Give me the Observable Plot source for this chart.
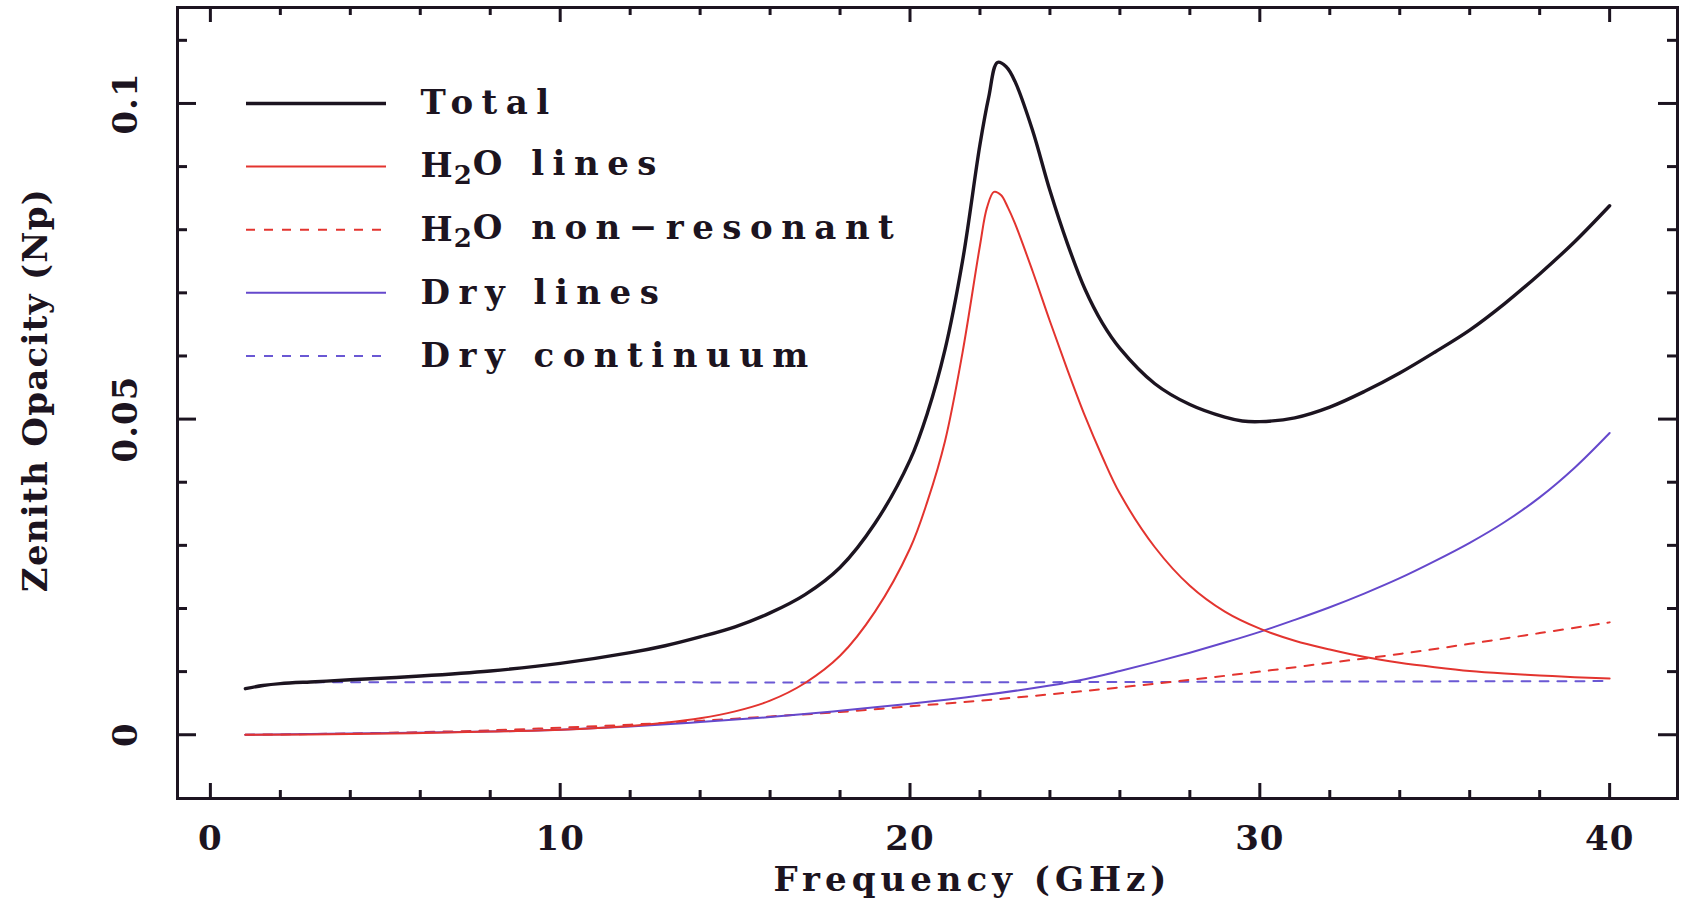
<!DOCTYPE html>
<html><head><meta charset="utf-8">
<script src="https://cdn.jsdelivr.net/npm/d3@7"></script>
<script src="https://cdn.jsdelivr.net/npm/@observablehq/plot@0.6"></script>
<style>
html,body{margin:0;padding:0;background:#fff;}
</style></head>
<body><div id="chart"></div>
<script>
// ---- data ----
const totalF = [1,1.5,2,3,4,6,8,10,12,13,14,15,16,17,18,19,20,20.5,21,21.5,22,22.25,22.5,22.75,23,23.5,24,24.5,25,25.5,26,27,28,29,29.5,30,31,32,33,34,35,36,37,38,39,40];
const totalV = [0.0073,0.0078,0.0081,0.0084,0.0087,0.0093,0.0101,0.0113,0.0130,0.0141,0.0155,0.0171,0.0193,0.0222,0.0265,0.0335,0.0435,0.0510,0.0610,0.0750,0.0935,0.1010,0.1065,0.1058,0.1035,0.0958,0.0862,0.0778,0.0706,0.0652,0.0612,0.0556,0.0523,0.0503,0.0497,0.0496,0.0502,0.0519,0.0544,0.0573,0.0606,0.0641,0.0683,0.0730,0.0781,0.0838];

const h2oF = [1,4,8,10,12,13,14,15,16,17,18,19,20,20.5,21,21.5,22,22.2,22.4,22.6,22.8,23,23.5,24,24.5,25,25.5,26,27,28,29,30,31,32,33,34,35,36,37,38,39,40];
const h2oV = [0,0.0001,0.0005,0.0008,0.0014,0.0019,0.0026,0.0037,0.0054,0.0082,0.0125,0.0195,0.0295,0.0370,0.0465,0.0605,0.0775,0.0835,0.0860,0.0855,0.0835,0.0810,0.0735,0.0655,0.0578,0.0505,0.0440,0.0382,0.0297,0.0236,0.0195,0.0168,0.0149,0.0135,0.0123,0.0114,0.0107,0.0101,0.0097,0.0094,0.0091,0.0089];

const nonresF = [1,4,8,12,14,16,18,20,22,24,26,28,30,32,34,36,38,40];
const nonresV = [0,0.0002,0.0007,0.0016,0.0022,0.0029,0.0036,0.0045,0.0054,0.0064,0.0075,0.0087,0.0100,0.0114,0.0128,0.0144,0.0161,0.0178];

const dryF = [1,4,8,10,12,14,16,18,20,22,24,25,26,27,28,29,30,31,32,33,34,35,36,37,38,39,40];
const dryV = [0,0.0002,0.0005,0.0008,0.0013,0.0020,0.0028,0.0038,0.0049,0.0062,0.0078,0.0088,0.0101,0.0115,0.0130,0.0146,0.0163,0.0182,0.0202,0.0224,0.0248,0.0275,0.0304,0.0337,0.0376,0.0423,0.0478];

const contF = [3,10,20,30,40];
const contV = [0.0083,0.0083,0.0083,0.0084,0.0085];

const seriesNames = ["Total","H2O lines","H2O non\u2212resonant","Dry lines","Dry continuum"];

const xMajorTicks = [0,10,20,30,40];
const xTickLabels = ["0","10","20","30","40"];
const xMinorTicks = [2,4,6,8,12,14,16,18,22,24,26,28,32,34,36,38];
const yMajorTicks = [0,0.05,0.1];
const yTickLabels = ["0","0.05","0.1"];
const yMinorTicks = [0.01,0.02,0.03,0.04,0.06,0.07,0.08,0.09,0.11];
const xTitle = "Frequency (GHz)";
const yTitle = "Zenith Opacity (Np)";

// ---- styles / layout ----
const W = 1693, H = 904, mL = 177, mR = 16, mT = 7, mB = 106;
const frameW = W - mL - mR, frameH = H - mT - mB;
const ink = "#1c1420";
const FONT = "DejaVu Serif";
const styles = [
  {stroke: ink, strokeWidth: 3.4, dash: null},
  {stroke: "#e3342f", strokeWidth: 2, dash: null},
  {stroke: "#e3342f", strokeWidth: 2, dash: "9,9"},
  {stroke: "#6548cc", strokeWidth: 2, dash: null},
  {stroke: "#6a58d4", strokeWidth: 2, dash: "9,9"}
];
const seriesData = [
  [totalF, totalV], [h2oF, h2oV], [nonresF, nonresV], [dryF, dryV], [contF, contV]
].map(([f, v]) => f.map((x, i) => ({f: x, v: v[i]})));

const drawOrder = [4, 2, 3, 1, 0];
const lineMarks = drawOrder.map(i => Plot.line(seriesData[i], {
  x: "f", y: "v", stroke: styles[i].stroke, strokeWidth: styles[i].strokeWidth,
  strokeDasharray: styles[i].dash, curve: "catmull-rom"
}));

const legendRows = seriesNames.map((name, i) => ({name, i, ly: 0.1 - 0.01 * i}));
const legendMarks = legendRows.map(r => Plot.ruleY([r], {
  y: "ly", insetLeft: 69, insetRight: frameW - 209,
  stroke: styles[r.i].stroke, strokeWidth: styles[r.i].strokeWidth,
  strokeDasharray: styles[r.i].dash
}));

const txt = {fontSize: 34, fontWeight: "bold", fill: ink};
const tickW = 3;
const plot = Plot.plot({
  width: W, height: H,
  marginLeft: mL, marginRight: mR, marginTop: mT, marginBottom: mB,
  style: {fontFamily: FONT, background: "#fff", color: ink, overflow: "visible"},
  x: {domain: [-0.94, 41.94], axis: null},
  y: {domain: [-0.0101, 0.1152], axis: null},
  marks: [
    Plot.ruleX(xMajorTicks, {x: d => d, insetTop: frameH - 15, stroke: ink, strokeWidth: tickW}),
    Plot.ruleX(xMinorTicks, {x: d => d, insetTop: frameH - 8, stroke: ink, strokeWidth: tickW}),
    Plot.ruleX(xMajorTicks, {x: d => d, insetBottom: frameH - 15, stroke: ink, strokeWidth: tickW}),
    Plot.ruleX(xMinorTicks, {x: d => d, insetBottom: frameH - 8, stroke: ink, strokeWidth: tickW}),
    Plot.ruleY(yMajorTicks, {y: d => d, insetRight: frameW - 19, stroke: ink, strokeWidth: tickW}),
    Plot.ruleY(yMinorTicks, {y: d => d, insetRight: frameW - 10, stroke: ink, strokeWidth: tickW}),
    Plot.ruleY(yMajorTicks, {y: d => d, insetLeft: frameW - 19, stroke: ink, strokeWidth: tickW}),
    Plot.ruleY(yMinorTicks, {y: d => d, insetLeft: frameW - 10, stroke: ink, strokeWidth: tickW}),
    ...lineMarks,
    ...legendMarks,
    Plot.text(legendRows, {
      y: "ly", text: "name", frameAnchor: "left", dx: 243, textAnchor: "start",
      lineAnchor: "middle", ...txt
    }),
    Plot.frame({stroke: ink, strokeWidth: 3}),
    Plot.text(xMajorTicks, {
      x: d => d, text: (d, i) => xTickLabels[i], frameAnchor: "bottom", dy: 41,
      textAnchor: "middle", lineAnchor: "middle", ...txt
    }),
    Plot.text(yMajorTicks, {
      y: d => d, text: (d, i) => yTickLabels[i], frameAnchor: "left", dx: -51, rotate: -90,
      textAnchor: "middle", lineAnchor: "middle", ...txt
    }),
    Plot.text([xTitle], {
      text: d => d, frameAnchor: "bottom", dx: 45, dy: 82, textAnchor: "middle",
      lineAnchor: "middle", ...txt
    }),
    Plot.text([yTitle], {
      text: d => d, frameAnchor: "left", dx: -141, dy: -13, rotate: -90, textAnchor: "middle",
      lineAnchor: "middle", ...txt
    })
  ]
});

// letter spacing and H2O subscript
const ns = "http://www.w3.org/2000/svg";
plot.querySelectorAll("text").forEach(t => {
  const s = t.textContent;
  if (seriesNames.includes(s)) t.style.letterSpacing = "8.5px";
  else if (s === xTitle) t.style.letterSpacing = "5px";
  else if (s === yTitle) t.style.letterSpacing = "1.3px";
  else if (xTickLabels.includes(s) || yTickLabels.includes(s)) t.style.letterSpacing = "1px";
  if (s.startsWith("H2O")) {
    t.textContent = "";
    const a = document.createElementNS(ns, "tspan"); a.textContent = "H";
    a.style.letterSpacing = "1px";
    const b = document.createElementNS(ns, "tspan"); b.textContent = "2";
    b.setAttribute("dy", "0.26em"); b.setAttribute("font-size", "26");
    b.style.letterSpacing = "1px";
    const c = document.createElementNS(ns, "tspan"); c.textContent = "O" + s.slice(3);
    c.setAttribute("dy", "-0.26em");
    t.append(a, b, c);
  }
});

document.getElementById("chart").appendChild(plot);
</script>
</body></html>
